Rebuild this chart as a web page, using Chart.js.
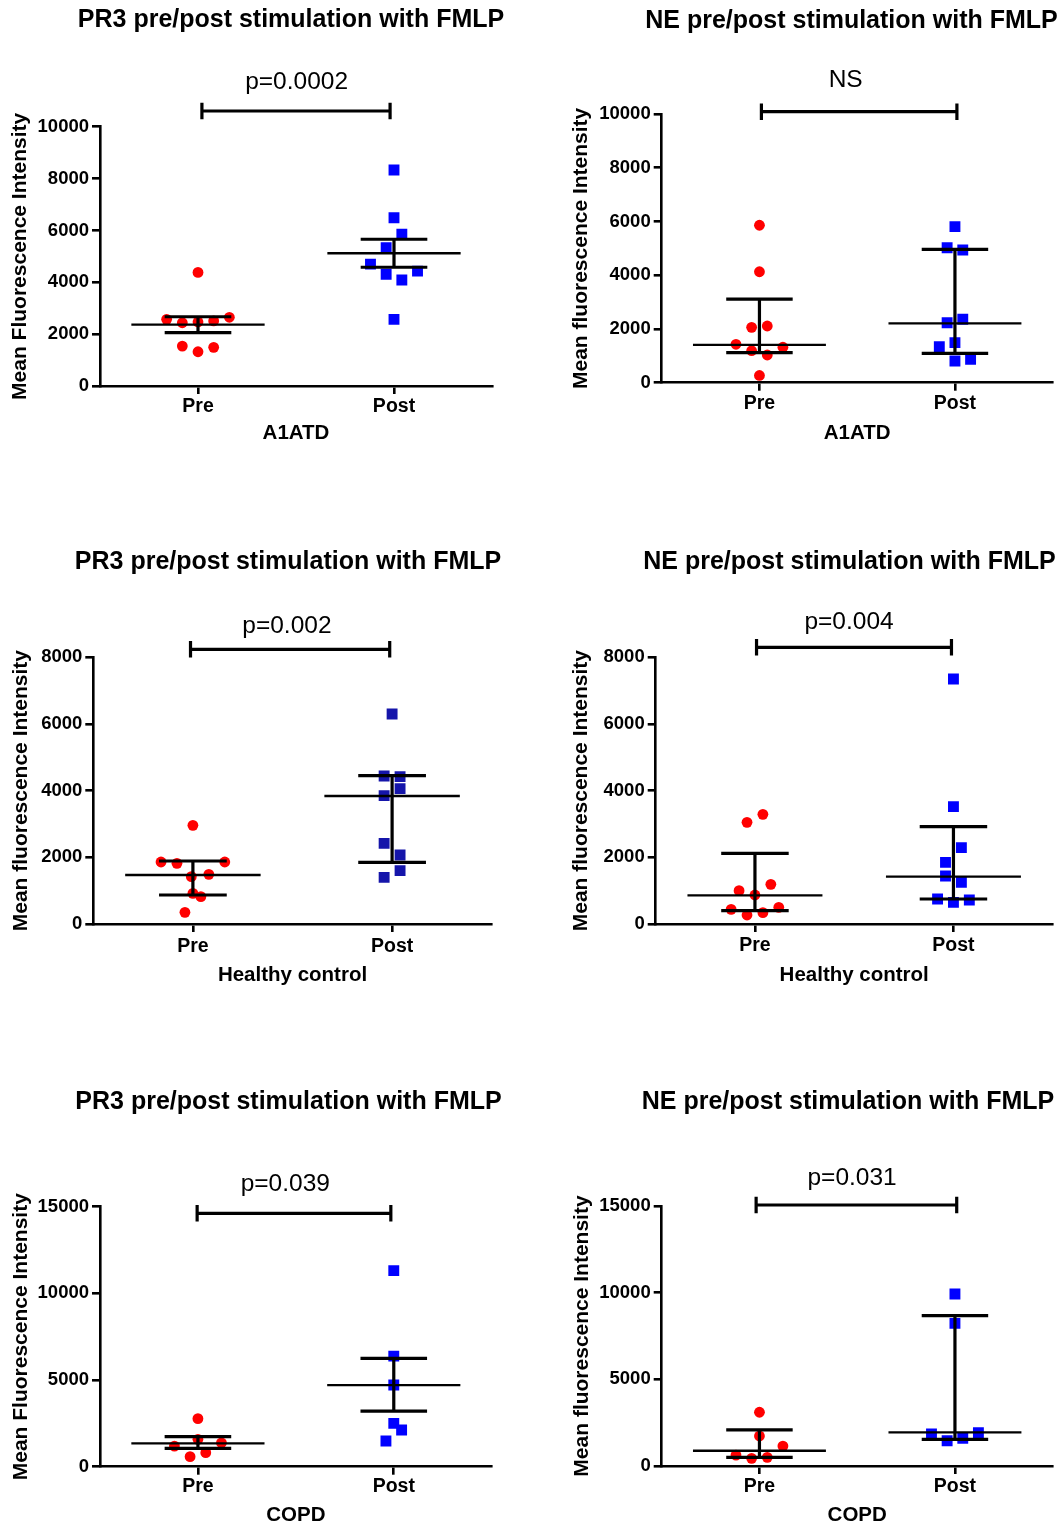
<!DOCTYPE html>
<html>
<head>
<meta charset="utf-8">
<script src="https://cdn.jsdelivr.net/npm/chart.js@4.4.1/dist/chart.umd.min.js"></script>
<style>
  html, body { margin: 0; padding: 0; background: #fff; }
  #fig { position: relative; width: 1064px; height: 1526px; overflow: hidden; background: #fff; }
  #fig canvas { position: absolute; }
</style>
</head>
<body>
<div id="fig"></div>
<script>
// ---------------------------------------------------------------
// Data: mean fluorescence intensity before / after FMLP stimulation
// ---------------------------------------------------------------
const GROUPS = ['Pre', 'Post'];

// PR3, A1ATD  (bars: mean ± SEM)  [centre, lower, upper]
const pr3A1atdPre     = [4380, 2570, 2440, 2470, 2510, 2650, 1540, 1320, 1490];
const pr3A1atdPost    = [8330, 6490, 5850, 5330, 4700, 4310, 4090, 4430, 2570];
const pr3A1atdPreBar  = [2370, 2060, 2670];
const pr3A1atdPostBar = [5120, 4580, 5660];
const pr3A1atdP       = 'p=0.0002';

// NE, A1ATD  (bars: median, interquartile range)
const neA1atdPre      = [5860, 4130, 2060, 2110, 1430, 1190, 1030, 1320, 270];
const neA1atdPost     = [5810, 5020, 4940, 2230, 2360, 1340, 1490, 810, 870];
const neA1atdPreBar   = [1410, 1120, 3110];
const neA1atdPostBar  = [2210, 1090, 4960];
const neA1atdP        = 'NS';

// PR3, healthy control
const pr3HcPre        = [2960, 1860, 1820, 1860, 1420, 1490, 920, 820, 350];
const pr3HcPost       = [6300, 4440, 4420, 3850, 4060, 2420, 2070, 1600, 1400];
const pr3HcPreBar     = [1470, 870, 1890];
const pr3HcPostBar    = [3840, 1850, 4450];
const pr3HcP          = 'p=0.002';

// NE, healthy control
const neHcPre         = [3290, 3050, 1190, 1000, 870, 440, 500, 270, 340];
const neHcPost        = [7350, 3520, 2290, 1850, 1440, 1250, 750, 650, 720];
const neHcPreBar      = [860, 400, 2120];
const neHcPostBar     = [1420, 750, 2920];
const neHcP           = 'p=0.004';

// PR3, COPD
const pr3CopdPre      = [2770, 1580, 1190, 1380, 580, 810];
const pr3CopdPost     = [11310, 6380, 4710, 2500, 2120, 1480];
const pr3CopdPreBar   = [1350, 1060, 1730];
const pr3CopdPostBar  = [4710, 3210, 6250];
const pr3CopdP        = 'p=0.039';

// NE, COPD
const neCopdPre       = [3100, 1730, 1150, 630, 440, 500];
const neCopdPost      = [9920, 8230, 1850, 1920, 1460, 1600];
const neCopdPreBar    = [880, 500, 2080];
const neCopdPostBar   = [1940, 1540, 8670];
const neCopdP         = 'p=0.031';

// y-axis ranges: [max, step]
const yAxisA1atd = [10000, 2000];
const yAxisHc    = [8000, 2000];
const yAxisCopd  = [15000, 5000];

// ---------------------------------------------------------------
// Layout and styling
// ---------------------------------------------------------------
const FONT = '"Liberation Sans", Arial, Helvetica, sans-serif';
const LANE = 0.08;          // horizontal step between side-by-side points (x units)
const MEDIAN_HALF = 0.34;   // half width of the centre line
const CAP_HALF = 0.17;      // half width of the error-bar caps
const RED = '#ff0000';
const BLUE = '#0000ff';

// side-by-side placement of points that would overlap, in lane steps
const LANES = {
  pr3A1atd: { pre: [0, -2, -1, 0, 1, 2, -1, 0, 1],            post: [0, 0, 0.5, -0.5, -1.5, -0.5, 0.5, 1.5, 0] },
  neA1atd:  { pre: [0, 0, -0.5, 0.5, -1.5, -0.5, 0.5, 1.5, 0], post: [0, -0.5, 0.5, -0.5, 0.5, -1, 0, 0, 1] },
  pr3Hc:    { pre: [0, -2, -1, 2, -0.1, 1, 0, 0.5, -0.5],       post: [0, -0.5, 0.5, -0.5, 0.5, -0.5, 0.5, 0.5, -0.5] },
  neHc:     { pre: [0.5, -0.5, 1, -1, 0, -1.5, 1.5, -0.5, 0.5], post: [0, 0, 0.5, -0.5, -0.5, 0.5, -1, 0, 1] },
  pr3Copd:  { pre: [0, 0, -1.5, 1.5, -0.5, 0.5],                post: [0, 0, 0, 0, 0.5, -0.5] },
  neCopd:   { pre: [0, 0, 1.5, -1.5, -0.5, 0.5],                post: [0, 0, -1.5, 1.5, -0.5, 0.5] }
};

const PANELS = [
  { key: 'pr3A1atd', title: 'PR3 pre/post stimulation with FMLP', yTitle: 'Mean Fluorescence Intensity', xTitle: 'A1ATD',
    pre: pr3A1atdPre, post: pr3A1atdPost, preBar: pr3A1atdPreBar, postBar: pr3A1atdPostBar, pText: pr3A1atdP, yAxis: yAxisA1atd,
    canvas: [0, 0, 532, 460], area: [100, 126.7, 492, 386], titleAt: [291, 20.5], xTitleY: 433, yTitleX: 20.5, tickPad: 0.5,
    bracketDy: -15.7, bracketX: [0.02, 0.98], labelX: 0.503, labelDy: 21.7, postColor: BLUE },
  { key: 'neA1atd', title: 'NE pre/post stimulation with FMLP', yTitle: 'Mean fluorescence Intensity', xTitle: 'A1ATD',
    pre: neA1atdPre, post: neA1atdPost, preBar: neA1atdPreBar, postBar: neA1atdPostBar, pText: neA1atdP, yAxis: yAxisA1atd,
    canvas: [532, 0, 532, 460], area: [661.7, 114, 1052.7, 382.7], titleAt: [851.5, 21.5], xTitleY: 433, yTitleX: 581.3, tickPad: 1.2,
    bracketDy: -2.3, bracketX: [0.01, 1.01], labelX: 0.441, labelDy: 25, postColor: BLUE },
  { key: 'pr3Hc', title: 'PR3 pre/post stimulation with FMLP', yTitle: 'Mean fluorescence Intensity', xTitle: 'Healthy control',
    pre: pr3HcPre, post: pr3HcPost, preBar: pr3HcPreBar, postBar: pr3HcPostBar, pText: pr3HcP, yAxis: yAxisHc,
    canvas: [0, 530, 532, 470], area: [93.3, 657.3, 491.7, 924], titleAt: [288, 562.5], xTitleY: 975.5, yTitleX: 21, tickPad: 2.8,
    bracketDy: -8, bracketX: [-0.012, 0.988], labelX: 0.472, labelDy: 16, postColor: '#1515aa' },
  { key: 'neHc', title: 'NE pre/post stimulation with FMLP', yTitle: 'Mean fluorescence Intensity', xTitle: 'Healthy control',
    pre: neHcPre, post: neHcPost, preBar: neHcPreBar, postBar: neHcPostBar, pText: neHcP, yAxis: yAxisHc,
    canvas: [532, 530, 532, 470], area: [655.7, 657.3, 1052.7, 924], titleAt: [849.5, 562.5], xTitleY: 975.5, yTitleX: 581.7, tickPad: 2.4,
    bracketDy: -10, bracketX: [0.008, 0.99], labelX: 0.474, labelDy: 18, postColor: BLUE },
  { key: 'pr3Copd', title: 'PR3 pre/post stimulation with FMLP', yTitle: 'Mean Fluorescence Intensity', xTitle: 'COPD',
    pre: pr3CopdPre, post: pr3CopdPost, preBar: pr3CopdPreBar, postBar: pr3CopdPostBar, pText: pr3CopdP, yAxis: yAxisCopd,
    canvas: [0, 1070, 532, 456], area: [100, 1206.7, 491.7, 1466.7], titleAt: [288.5, 1102.5], xTitleY: 1515.5, yTitleX: 21, tickPad: 0.6,
    bracketDy: 6.6, bracketX: [-0.004, 0.985], labelX: 0.446, labelDy: 22.6, postColor: BLUE },
  { key: 'neCopd', title: 'NE pre/post stimulation with FMLP', yTitle: 'Mean fluorescence Intensity', xTitle: 'COPD',
    pre: neCopdPre, post: neCopdPost, preBar: neCopdPreBar, postBar: neCopdPostBar, pText: neCopdP, yAxis: yAxisCopd,
    canvas: [532, 1070, 532, 456], area: [661.7, 1206, 1052.7, 1466], titleAt: [848, 1102.5], xTitleY: 1515.5, yTitleX: 582, tickPad: 1.3,
    bracketDy: -1, bracketX: [-0.017, 1.009], labelX: 0.474, labelDy: 20, postColor: BLUE }
];

Chart.defaults.color = '#000';
Chart.defaults.font.family = FONT;

// error bars, significance bracket, p-value and panel title
const overlay = {
  id: 'overlay',
  afterDatasetsDraw(chart) {
    const p = chart.options.plugins.overlay.panel;
    const { ctx, scales: { x, y } } = chart;
    ctx.save();
    ctx.strokeStyle = '#000';
    ctx.lineCap = 'butt';
    [p.preBar, p.postBar].forEach((bar, gi) => {
      const [centre, lo, hi] = bar;
      const xc = x.getPixelForValue(gi);
      const yc = y.getPixelForValue(centre);
      const yl = y.getPixelForValue(lo);
      const yh = y.getPixelForValue(hi);
      const mL = x.getPixelForValue(gi - MEDIAN_HALF), mR = x.getPixelForValue(gi + MEDIAN_HALF);
      const cL = x.getPixelForValue(gi - CAP_HALF), cR = x.getPixelForValue(gi + CAP_HALF);
      ctx.lineWidth = 3.2;
      ctx.beginPath();
      ctx.moveTo(xc, yl); ctx.lineTo(xc, yh);
      ctx.moveTo(cL, yl); ctx.lineTo(cR, yl);
      ctx.moveTo(cL, yh); ctx.lineTo(cR, yh);
      ctx.stroke();
      ctx.lineWidth = 2.3;
      ctx.beginPath();
      ctx.moveTo(mL, yc); ctx.lineTo(mR, yc);
      ctx.stroke();
    });
    ctx.restore();
  },
  afterDraw(chart) {
    const p = chart.options.plugins.overlay.panel;
    const { ctx, scales: { x }, chartArea } = chart;
    const [cx, cy] = p.canvas;
    ctx.save();
    // bracket between the two groups
    const by = chartArea.top + p.bracketDy;
    const bx0 = x.getPixelForValue(p.bracketX[0]);
    const bx1 = x.getPixelForValue(p.bracketX[1]);
    ctx.strokeStyle = '#000';
    ctx.lineWidth = 3.2;
    ctx.beginPath();
    ctx.moveTo(bx0, by); ctx.lineTo(bx1, by);
    ctx.moveTo(bx0, by - 8.3); ctx.lineTo(bx0, by + 8.3);
    ctx.moveTo(bx1, by - 8.3); ctx.lineTo(bx1, by + 8.3);
    ctx.stroke();
    // significance label
    ctx.fillStyle = '#000';
    ctx.textAlign = 'center';
    ctx.textBaseline = 'alphabetic';
    ctx.font = '24.5px ' + FONT;
    ctx.fillText(p.pText, x.getPixelForValue(p.labelX), by - p.labelDy);
    // panel title
    ctx.font = 'bold 25px ' + FONT;
    ctx.textBaseline = 'middle';
    ctx.fillText(p.title, p.titleAt[0] - cx, p.titleAt[1] - cy);
    ctx.restore();
  }
};

const fig = document.getElementById('fig');

PANELS.forEach((p) => {
  const [cx, cy, cw, ch] = p.canvas;
  const cv = document.createElement('canvas');
  cv.width = cw; cv.height = ch;
  cv.style.left = cx + 'px'; cv.style.top = cy + 'px';
  cv.style.width = cw + 'px'; cv.style.height = ch + 'px';
  fig.appendChild(cv);

  const left = p.area[0] - cx, top = p.area[1] - cy, right = p.area[2] - cx, bottom = p.area[3] - cy;
  const lanes = LANES[p.key];
  const axisLine = { display: true, width: 2.6, color: '#000' };
  const tickMarks = { display: true, drawOnChartArea: false, drawTicks: true, tickLength: 8, lineWidth: 2.6, color: '#000' };

  new Chart(cv, {
    type: 'scatter',
    data: {
      datasets: [
        {
          label: GROUPS[0],
          data: p.pre.map((v, i) => ({ x: 0 + lanes.pre[i] * LANE, y: v })),
          pointStyle: 'circle', pointRadius: 5.4, backgroundColor: RED, borderColor: RED, borderWidth: 0
        },
        {
          label: GROUPS[1],
          data: p.post.map((v, i) => ({ x: 1 + lanes.post[i] * LANE, y: v })),
          pointStyle: 'rect', pointRadius: 7.7, backgroundColor: p.postColor, borderColor: p.postColor, borderWidth: 0
        }
      ]
    },
    options: {
      responsive: false,
      animation: false,
      devicePixelRatio: 1,
      events: [],
      layout: { padding: { top: top, right: cw - right, bottom: 0, left: 0 } },
      plugins: {
        legend: { display: false },
        tooltip: { enabled: false },
        title: { display: false },
        overlay: { panel: p }
      },
      scales: {
        x: {
          type: 'linear', min: -0.5, max: 1.5,
          afterBuildTicks: (s) => { s.ticks = [{ value: 0 }, { value: 1 }]; },
          afterFit: (s) => { s.height = ch - bottom; },
          ticks: {
            callback: (v) => GROUPS[v],
            font: { family: FONT, size: 19.5, weight: 'bold' },
            color: '#000', padding: p.tickPad, maxRotation: 0, autoSkip: false
          },
          grid: tickMarks,
          border: axisLine,
          title: {
            display: true, text: p.xTitle, color: '#000',
            font: { family: FONT, size: 20.5, weight: 'bold' },
            padding: { top: 0, bottom: (ch - (p.xTitleY - cy)) - 12.3 }
          }
        },
        y: {
          min: 0, max: p.yAxis[0],
          afterFit: (s) => { s.width = left; },
          ticks: {
            stepSize: p.yAxis[1],
            callback: (v) => String(v),
            font: { family: FONT, size: 18.5, weight: 'bold' },
            color: '#000', padding: 3
          },
          grid: tickMarks,
          border: axisLine,
          title: {
            display: true, text: p.yTitle, color: '#000',
            font: { family: FONT, size: 21, weight: 'bold' },
            padding: { top: (p.yTitleX - cx) - 12.6, bottom: 0 }
          }
        }
      }
    },
    plugins: [overlay]
  });
});
</script>
</body>
</html>
